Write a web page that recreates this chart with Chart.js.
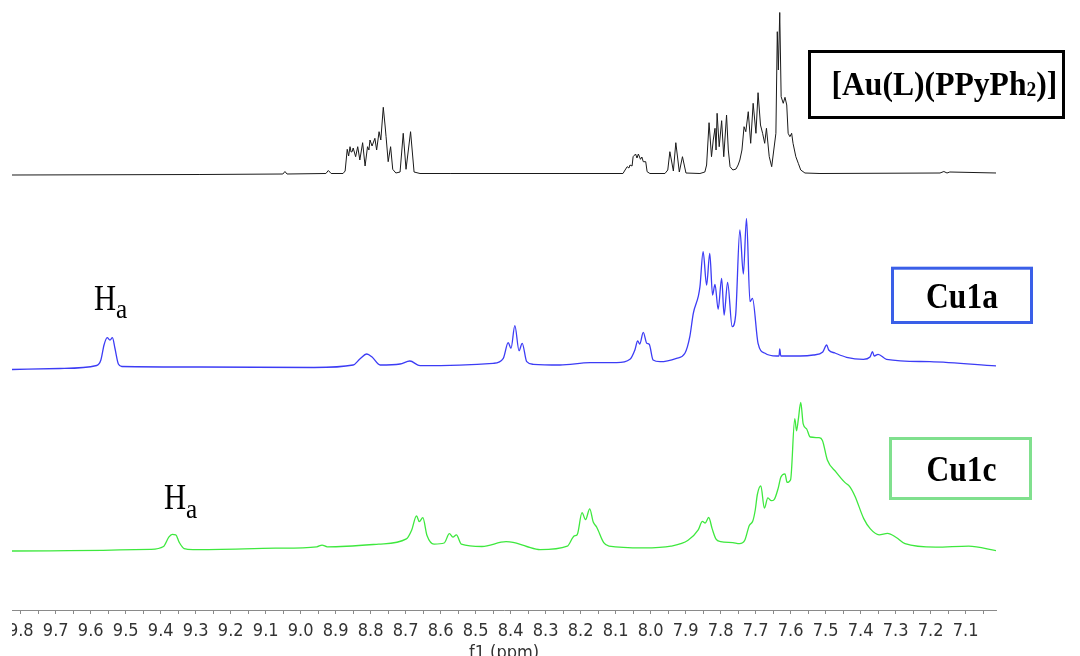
<!DOCTYPE html>
<html>
<head>
<meta charset="utf-8">
<title>1H NMR - Au / Cu complexes</title>
<script src="https://cdn.jsdelivr.net/npm/chart.js@4.4.0/dist/chart.umd.min.js"></script>
<style>
  html, body { margin: 0; padding: 0; background: #fff; overflow: hidden; }
  #wrap { position: absolute; left: 12px; top: 0; width: 1068px; height: 656px; }
</style>
</head>
<body>
<div id="wrap"><canvas id="nmr" width="1068" height="656"></canvas></div>

<script>
  // ppm window of the plot (axis runs high -> low)
  const ppmMin = 7.013;
  const ppmMax = 9.825;

  // [Au(L)(PPyPh2)]  chemical shift / intensity
  const auPpm = [9.825, 9.288, 9.051, 9.045, 9.039, 8.928, 8.921, 8.913, 8.879, 8.873, 8.867, 8.863, 8.859, 8.856, 8.853, 8.850,
    8.843, 8.837, 8.831, 8.823, 8.816, 8.809, 8.805, 8.802, 8.796, 8.788, 8.783, 8.776, 8.771, 8.764, 8.759, 8.756, 8.750,
    8.743, 8.737, 8.728, 8.716, 8.707, 8.699, 8.686, 8.676, 8.659, 8.573, 8.259, 8.079, 8.073, 8.067, 8.062, 8.059, 8.053,
    8.050, 8.043, 8.039, 8.035, 8.029, 8.025, 8.021, 8.014, 8.010, 8.002, 7.959, 7.951, 7.945, 7.935, 7.928, 7.918, 7.909,
    7.899, 7.859, 7.845, 7.840, 7.833, 7.826, 7.821, 7.816, 7.813, 7.810, 7.804, 7.797, 7.791, 7.783, 7.778, 7.773, 7.765,
    7.756, 7.750, 7.745, 7.739, 7.733, 7.728, 7.721, 7.714, 7.707, 7.699, 7.693, 7.686, 7.680, 7.674, 7.669, 7.661, 7.654,
    7.648, 7.642, 7.638, 7.635, 7.631, 7.627, 7.621, 7.616, 7.611, 7.607, 7.602, 7.597, 7.593, 7.585, 7.578, 7.571, 7.559,
    7.516, 7.173, 7.162, 7.153, 7.145, 7.011];
  const auInt = [-1, -0.5, 0, 2.5, 0, 0.5, 3.5, 0.5, 0.5, 3, 24.7, 18, 27.3, 22, 22.3, 26,
    17.3, 27.3, 14, 31.3, 8, 27.3, 24, 34, 28, 35.7, 24, 42.3, 34, 66.7, 49, 37.3, 12.3,
    27.3, 4.7, 1, 2, 40.7, 4.7, 42.3, 2, 0.5, 0.5, 0.5, 0.5, 4, 7.3, 6, 9, 8,
    17.3, 20, 16, 20, 14.7, 17, 12.3, 12.3, 2.3, 0.5, 0.5, 4, 22.3, 3, 31.3, 2, 17.3,
    1, 0.5, 2, 9, 51.3, 17.3, 34, 45.7, 24, 60.7, 27.3, 53.3, 17.3, 59, 24, 7.3, 4,
    5, 9, 14, 24, 47.3, 42.3, 62.3, 30.7, 70.7, 40.7, 81.3, 49, 40.7, 30.7, 45.7, 17.3, 7.3,
    24, 40.7, 142.3, 104, 161.5, 77.3, 70.7, 76.7, 69, 40.7, 37.3, 40.7, 30.7, 17.3, 10.7, 4, 1,
    0.5, 1, 2.5, 1, 2, 1];

  // Cu1a
  const cu1aPpm = [9.825, 9.688, 9.583, 9.571, 9.562, 9.553, 9.545, 9.538, 9.531, 9.521, 9.511, 9.288, 8.962, 8.850, 8.831,
    8.811, 8.796, 8.773, 8.716, 8.688, 8.659, 8.450, 8.421, 8.407, 8.399, 8.388, 8.376, 8.367, 8.354, 8.335, 8.259, 8.173,
    8.097, 8.059, 8.045, 8.037, 8.031, 8.021, 8.011, 8.004, 7.993, 7.973, 7.926, 7.902, 7.888, 7.878, 7.864, 7.859, 7.850,
    7.840, 7.831, 7.823, 7.816, 7.807, 7.797, 7.790, 7.780, 7.767, 7.757, 7.745, 7.735, 7.726, 7.716, 7.709, 7.693, 7.673,
    7.640, 7.633, 7.631, 7.628, 7.573, 7.535, 7.508, 7.497, 7.491, 7.473, 7.440, 7.392, 7.373, 7.366, 7.361, 7.350, 7.326,
    7.202, 7.011];
  const cu1aInt = [-0.5, 0.5, 3.5, 9, 24, 31.3, 29, 31.3, 21, 5, 2.5, 2, 1.5, 4, 10,
    15, 12, 4, 5, 8, 3.3, 5.7, 10.7, 26.3, 20.7, 43.3, 18.3, 25.7, 7.3, 4.7, 4, 6.3,
    6.3, 9.7, 19, 28, 25, 36.7, 25.7, 24.7, 9, 7.3, 10.7, 15.7, 32.3, 55.7, 72.3, 82.3, 117.3,
    84, 115.7, 74, 84.7, 59.7, 90.7, 54, 86.7, 42.3, 54, 139, 95, 150.7, 67.3, 70.7, 25.7, 15.7,
    13, 13, 20, 13, 13, 14, 17, 24, 19, 16, 11.7, 9.7, 12, 17.3, 13, 14.7, 9.7,
    7.3, 3];

  // Cu1c
  const cu1cPpm = [9.825, 9.430, 9.392, 9.377, 9.367, 9.357, 9.347, 9.333, 9.308, 9.072, 8.954, 8.939, 8.924, 8.777, 8.698,
    8.683, 8.669, 8.661, 8.651, 8.639, 8.619, 8.590, 8.575, 8.565, 8.555, 8.541, 8.482, 8.413, 8.393, 8.354, 8.316, 8.238,
    8.218, 8.210, 8.196, 8.186, 8.174, 8.164, 8.154, 8.134, 8.119, 8.021, 7.942, 7.893, 7.864, 7.852, 7.844, 7.834, 7.824,
    7.813, 7.800, 7.765, 7.746, 7.731, 7.718, 7.708, 7.701, 7.695, 7.685, 7.675, 7.665, 7.655, 7.647, 7.635, 7.628, 7.616,
    7.610, 7.600, 7.588, 7.583, 7.578, 7.571, 7.564, 7.554, 7.544, 7.519, 7.509, 7.495, 7.470, 7.445, 7.431, 7.416, 7.391,
    7.372, 7.347, 7.323, 7.298, 7.273, 7.185, 7.091, 7.012];
  const cu1cInt = [0, 1.7, 4.5, 13.8, 16.6, 16.2, 8.6, 2.4, 1.4, 2.8, 4.2, 5.9, 4.2, 6.9, 12.1,
    20.7, 35.2, 29.3, 33.4, 15.5, 6.9, 8, 17.3, 13.8, 16.2, 6.9, 4.5, 9.3, 8.6, 4.5, 1.4, 4.9,
    15.2, 16.2, 38.3, 31.4, 42.1, 29, 23.8, 8.3, 4.9, 3.1, 4.9, 10.7, 21.1, 29.7, 28, 33.5, 22.1,
    11.8, 9.4, 8.3, 7.3, 10.7, 25.5, 30, 41, 56.5, 65.1, 42.8, 53.1, 50.3, 51.4, 63.4, 73.7, 77.2,
    68.6, 71.3, 132.3, 120.2, 131.3, 148.5, 127.1, 122, 114, 113.3, 110.6, 91, 78.9, 68.6, 64.4, 54.8, 32.4,
    22.1, 16.2, 17.6, 13.5, 7.3, 3.8, 4.9, 0.4];

  // vertical stacking of the three spectra (baseline heights)
  const stackOffset = { au: 436, cu1a: 241, cu1c: 59 };

  function trace(ppm, ints, offset) {
    return ppm.map((p, i) => ({ x: p, y: ints[i] + offset }));
  }

  // draws text squeezed horizontally, returns the advance width
  function squeeze(ctx, str, x, y, font, sx, align) {
    ctx.save();
    ctx.font = font;
    ctx.textAlign = align || 'left';
    ctx.textBaseline = 'alphabetic';
    const w = ctx.measureText(str).width * sx;
    ctx.translate(x, y);
    ctx.scale(sx, 1);
    ctx.fillText(str, 0, 0);
    ctx.restore();
    return w;
  }

  const labelsPlugin = {
    id: 'spectrumLabels',
    afterDraw(chart) {
      const ctx = chart.ctx;
      const serif = '"Liberation Serif", "Times New Roman", serif';
      ctx.save();
      ctx.lineWidth = 3;
      ctx.strokeStyle = '#000';
      ctx.strokeRect(797.5, 51.5, 254, 66);
      ctx.strokeStyle = '#3a5fe8';
      ctx.strokeRect(880.5, 268.2, 139, 54.3);
      ctx.strokeStyle = '#80e08e';
      ctx.strokeRect(878.5, 438.5, 140, 60);

      ctx.fillStyle = '#000';
      let x = 819.5;
      x += squeeze(ctx, '[Au(L)(PPyPh', x, 95, 'bold 34px ' + serif, 0.93);
      x += squeeze(ctx, '2', x, 96, 'bold 21px ' + serif, 0.93);
      squeeze(ctx, ')]', x, 95, 'bold 34px ' + serif, 0.93);

      squeeze(ctx, 'Cu1a', 950, 308, 'bold 35px ' + serif, 0.9, 'center');
      squeeze(ctx, 'Cu1c', 949.5, 481, 'bold 35px ' + serif, 0.9, 'center');

      // H_a labels over the imine proton
      x = 82;
      x += squeeze(ctx, 'H', x, 310, '36px ' + serif, 0.85);
      squeeze(ctx, 'a', x, 318, '28px ' + serif, 0.9);
      x = 152;
      x += squeeze(ctx, 'H', x, 509, '36px ' + serif, 0.85);
      squeeze(ctx, 'a', x, 518, '28px ' + serif, 0.9);
      ctx.restore();
    }
  };

  const axisFont = { family: '"DejaVu Sans Condensed", "DejaVu Sans", sans-serif', size: 18 };

  new Chart(document.getElementById('nmr').getContext('2d'), {
    type: 'line',
    data: {
      datasets: [
        { label: '[Au(L)(PPyPh2)]', data: trace(auPpm, auInt, stackOffset.au), borderColor: '#1a1a1a', borderWidth: 1 },
        { label: 'Cu1a', data: trace(cu1aPpm, cu1aInt, stackOffset.cu1a), borderColor: '#3c3cf5', borderWidth: 1.3,
          cubicInterpolationMode: 'monotone' },
        { label: 'Cu1c', data: trace(cu1cPpm, cu1cInt, stackOffset.cu1c), borderColor: '#3ee83e', borderWidth: 1.3,
          cubicInterpolationMode: 'monotone' }
      ]
    },
    options: {
      responsive: false,
      animation: false,
      devicePixelRatio: 1,
      layout: { padding: { left: 0, right: 84, top: 0, bottom: 0 } },
      elements: { point: { radius: 0 }, line: { tension: 0, fill: false } },
      plugins: { legend: { display: false }, tooltip: { enabled: false } },
      scales: {
        x: {
          type: 'linear',
          reverse: true,
          min: ppmMin,
          max: ppmMax,
          afterFit(scale) {
            scale.paddingLeft = 0;
            scale.paddingRight = 0;
            scale.height = 46;
          },
          grid: { drawOnChartArea: false, drawTicks: true, tickLength: 4, color: '#8a8a8a' },
          border: { display: true, color: '#8a8a8a', width: 1 },
          ticks: {
            stepSize: 0.05,
            includeBounds: false,
            autoSkip: false,
            maxRotation: 0,
            padding: 7,
            color: '#333',
            font: axisFont,
            callback: v => (Math.round(v * 100) % 10 === 0 ? v.toFixed(1) : '')
          },
          title: { display: true, text: 'f1 (ppm)', color: '#333', font: axisFont, padding: { top: 0, bottom: -8 } }
        },
        y: { type: 'linear', display: false, min: 0, max: 610 }
      }
    },
    plugins: [labelsPlugin]
  });
</script>
</body>
</html>
